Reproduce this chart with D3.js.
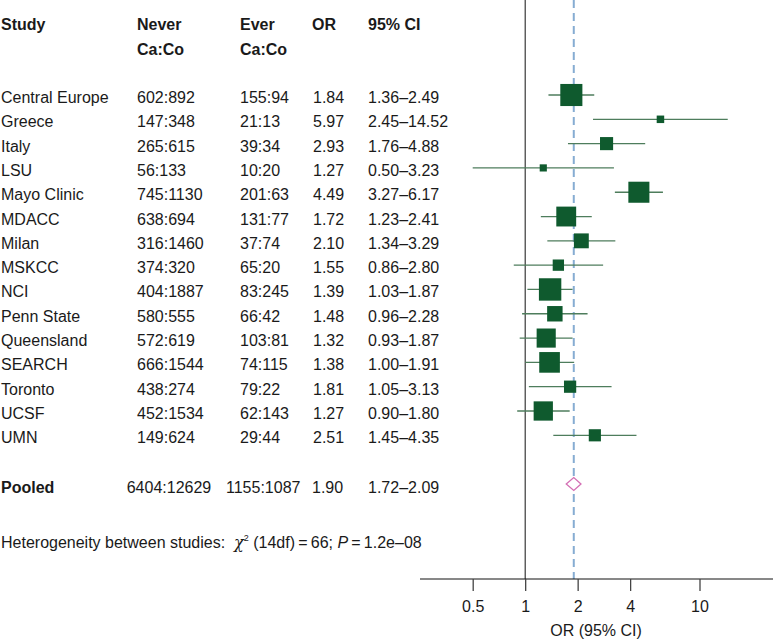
<!DOCTYPE html>
<html>
<head>
<meta charset="utf-8">
<script src="https://cdn.jsdelivr.net/npm/d3@7"></script>
<style>
  body { margin: 0; background: #fff; }
  svg { display: block; }
  text { font-family: "Liberation Sans", Arial, Helvetica, sans-serif; fill: #1a1a1a; }
</style>
</head>
<body>
<svg id="chart" width="773" height="640"></svg>
<script>
// ---------- data ----------
const studies = ["Central Europe","Greece","Italy","LSU","Mayo Clinic","MDACC","Milan","MSKCC","NCI","Penn State","Queensland","SEARCH","Toronto","UCSF","UMN"];
const neverCaCo = ["602:892","147:348","265:615","56:133","745:1130","638:694","316:1460","374:320","404:1887","580:555","572:619","666:1544","438:274","452:1534","149:624"];
const everCaCo = ["155:94","21:13","39:34","10:20","201:63","131:77","37:74","65:20","83:245","66:42","103:81","74:115","79:22","62:143","29:44"];
const orValues = [1.84,5.97,2.93,1.27,4.49,1.72,2.10,1.55,1.39,1.48,1.32,1.38,1.81,1.27,2.51];
const ciLower = [1.36,2.45,1.76,0.50,3.27,1.23,1.34,0.86,1.03,0.96,0.93,1.00,1.05,0.90,1.45];
const ciUpper = [2.49,14.52,4.88,3.23,6.17,2.41,3.29,2.80,1.87,2.28,1.87,1.91,3.13,1.80,4.35];
const pooledLabel = "Pooled";
const pooledNever = "6404:12629";
const pooledEver = "1155:1087";
const pooledOR = 1.90;
const pooledLower = 1.72;
const pooledUpper = 2.09;
const axisTicks = [0.5, 1, 2, 4, 10];
const tickLabels = ["0.5","1","2","4","10"];
const headers = ["Study","Never","Ever","OR","95% CI"];
const subHeaders = ["Ca:Co","Ca:Co"];
const hetText = {lead: "Heterogeneity between studies:  ", chi: "\u03C7", sup: "2", df: " (14df)\u2009=\u200966; ", p: "P", pval: "\u2009=\u20091.2e\u201308"};

const fmt = d3.format(".2f");
const rows = studies.map((s, i) => ({
  study: s, never: neverCaCo[i], ever: everCaCo[i], or: orValues[i], lo: ciLower[i], hi: ciUpper[i],
  w: 1 / Math.pow((Math.log(ciUpper[i]) - Math.log(ciLower[i])) / 3.92, 2)
}));

// ---------- layout ----------
const FS = 16;
const svg = d3.select("#chart");
const axisY = 579;
const x = d3.scaleLog().domain([0.5, 10]).range([472.7, 699.5]);
const y = d3.scalePoint().domain(studies).range([95, 435.3]);
const pooledY = 484;
const size = d3.scaleSqrt().domain([0, d3.max(rows, d => d.w)]).range([0, 22.4]);

const colX = {study: 1, never: 137, ever: 240, or: 313, ci: 368};
const headX = [1, 137, 240, 312, 368];

// headers
svg.append("g").selectAll("text").data(headers).join("text")
  .attr("x", (d, i) => headX[i]).attr("y", 29.5)
  .attr("font-size", FS).attr("font-weight", "bold").text(d => d);
svg.append("g").selectAll("text").data(subHeaders).join("text")
  .attr("x", (d, i) => headX[i + 1]).attr("y", 54.5)
  .attr("font-size", FS).attr("font-weight", "bold").text(d => d);

// table rows
const tbl = svg.append("g").attr("font-size", FS);
const rowG = tbl.selectAll("g").data(rows).join("g")
  .attr("transform", d => `translate(0,${y(d.study) + 8})`);
rowG.append("text").attr("x", colX.study).text(d => d.study);
rowG.append("text").attr("x", colX.never).text(d => d.never);
rowG.append("text").attr("x", colX.ever).text(d => d.ever);
rowG.append("text").attr("x", colX.or).text(d => fmt(d.or));
rowG.append("text").attr("x", colX.ci).text(d => fmt(d.lo) + "\u2013" + fmt(d.hi));

// pooled row
const pg = svg.append("g").attr("font-size", FS).attr("transform", `translate(0,${pooledY + 8.5})`);
pg.append("text").attr("x", 1).attr("font-weight", "bold").text(pooledLabel);
pg.append("text").attr("x", 126.7).text(pooledNever);
pg.append("text").attr("x", 226).text(pooledEver);
pg.append("text").attr("x", 312).text(fmt(pooledOR));
pg.append("text").attr("x", colX.ci).text(fmt(pooledLower) + "\u2013" + fmt(pooledUpper));

// heterogeneity
const ht = svg.append("text").attr("x", 1).attr("y", 547.5).attr("font-size", FS).attr("xml:space", "preserve");
ht.append("tspan").text(hetText.lead);
ht.append("tspan").attr("font-family", "DejaVu Serif").attr("font-style", "italic").text(hetText.chi);
ht.append("tspan").attr("font-size", 9).attr("dy", -7).text(hetText.sup);
ht.append("tspan").attr("dy", 7).text(hetText.df);
ht.append("tspan").attr("font-style", "italic").text(hetText.p);
ht.append("tspan").text(hetText.pval);

// reference lines
svg.append("line").attr("x1", x(1)).attr("x2", x(1)).attr("y1", 0).attr("y2", axisY)
  .attr("stroke", "#111").attr("stroke-width", 1);
svg.append("line").attr("x1", x(pooledOR)).attr("x2", x(pooledOR)).attr("y1", 0).attr("y2", axisY)
  .attr("stroke", "#86acd2").attr("stroke-width", 2).attr("stroke-dasharray", "8,5");

// CI lines
svg.append("g").selectAll("line").data(rows).join("line")
  .attr("x1", d => x(d.lo)).attr("x2", d => x(d.hi))
  .attr("y1", d => y(d.study)).attr("y2", d => y(d.study))
  .attr("stroke", "#4e7d5c").attr("stroke-width", 1.3);

// squares
svg.append("g").selectAll("rect").data(rows).join("rect")
  .attr("x", d => x(d.or) - size(d.w) / 2)
  .attr("y", d => y(d.study) - size(d.w) / 2)
  .attr("width", d => size(d.w)).attr("height", d => size(d.w))
  .attr("fill", "#0f5a2e");

// pooled diamond
const dh = 6.5;
svg.append("path")
  .attr("d", `M${x(pooledLower)},${pooledY} L${x(pooledOR)},${pooledY - dh} L${x(pooledUpper)},${pooledY} L${x(pooledOR)},${pooledY + dh} Z`)
  .attr("fill", "#fff").attr("stroke", "#d46fb4").attr("stroke-width", 1.3);

// axis
svg.append("line").attr("x1", 420).attr("x2", 773).attr("y1", axisY).attr("y2", axisY)
  .attr("stroke", "#111").attr("stroke-width", 1);
const axis = d3.axisBottom(x).tickValues(axisTicks).tickFormat((d, i) => tickLabels[i])
  .tickSize(12).tickPadding(10);
const ag = svg.append("g").attr("transform", `translate(0,${axisY})`).call(axis);
ag.select(".domain").remove();
ag.selectAll(".tick line").attr("stroke", "#444").attr("stroke-width", 1.3);
ag.selectAll(".tick text").attr("font-size", FS).attr("fill", "#1a1a1a")
  .attr("font-family", "Liberation Sans, Arial, sans-serif");

svg.append("text").attr("x", 596).attr("y", 636).attr("text-anchor", "middle")
  .attr("font-size", FS).text("OR (95% CI)");
</script>
</body>
</html>
